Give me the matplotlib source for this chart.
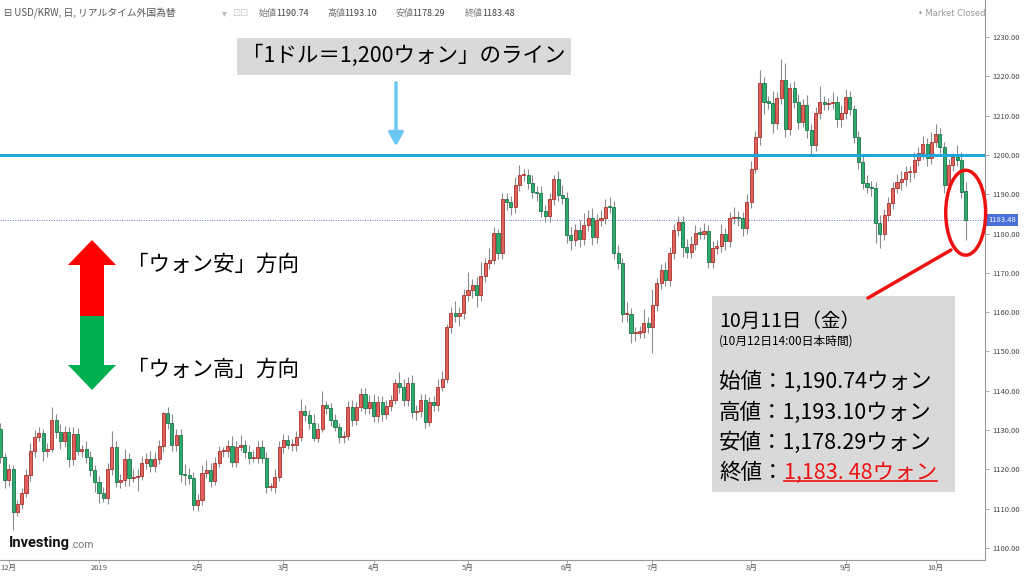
import matplotlib
matplotlib.use("Agg")
import matplotlib.pyplot as plt
from matplotlib.patches import Ellipse, Rectangle, Polygon
import numpy as np
import pandas as pd

plt.rcParams['font.family'] = ['Noto Sans CJK JP', 'DejaVu Sans']

# daily USD/KRW closes, 2018-11-29 .. 2019-10-11
closes = [
    1123.2, 1117.3, 1120.2, 1109.2, 1111.3, 1114.0, 1118.5, 1124.7, 1128.3, 1129.3,
    1124.6, 1125.3, 1132.5, 1129.6, 1127.3, 1129.6, 1122.6, 1129.1, 1124.7, 1125.1,
    1123.2, 1119.8, 1116.8, 1114.0, 1112.8, 1120.0, 1125.7, 1116.8, 1117.4, 1122.6,
    1117.7, 1118.0, 1118.3, 1121.5, 1122.6, 1120.8, 1122.6, 1125.9, 1134.4, 1131.7,
    1126.2, 1128.7, 1118.8, 1118.5, 1117.8, 1110.9, 1112.2, 1119.2, 1119.8, 1117.1,
    1121.7, 1124.7, 1124.7, 1125.9, 1122.0, 1125.7, 1126.2, 1124.5, 1122.8, 1123.0,
    1125.6, 1123.0, 1115.6, 1115.6, 1118.1, 1125.6, 1127.6, 1126.2, 1126.2, 1128.3,
    1134.8, 1133.8, 1131.7, 1128.1, 1130.4, 1136.4, 1135.5, 1132.5, 1130.8, 1128.3,
    1128.6, 1135.9, 1132.5, 1135.9, 1139.1, 1135.7, 1137.2, 1133.5, 1137.2, 1134.2,
    1136.1, 1137.6, 1141.9, 1141.0, 1137.6, 1141.9, 1134.6, 1134.8, 1137.6, 1132.1,
    1137.2, 1136.3, 1141.0, 1143.1, 1156.1, 1159.9, 1159.0, 1159.7, 1164.4, 1165.6,
    1166.9, 1164.4, 1169.2, 1172.4, 1173.3, 1180.2, 1175.1, 1188.7, 1188.1, 1186.8,
    1192.3, 1194.9, 1194.9, 1192.8, 1190.6, 1190.2, 1185.7, 1184.5, 1188.7, 1194.0,
    1189.8, 1189.0, 1179.6, 1178.4, 1180.9, 1178.5, 1182.2, 1183.9, 1179.2, 1183.4,
    1184.0, 1186.8, 1186.7, 1175.0, 1172.4, 1159.5, 1159.5, 1154.6, 1154.8, 1155.0,
    1157.2, 1156.3, 1161.8, 1167.3, 1170.7, 1168.2, 1175.0, 1180.9, 1183.0, 1176.5,
    1175.4, 1177.3, 1180.2, 1180.0, 1180.7, 1172.8, 1176.2, 1176.8, 1179.9, 1178.2,
    1183.9, 1184.3, 1184.0, 1181.3, 1188.1, 1196.4, 1204.5, 1218.2, 1213.5, 1213.3,
    1208.0, 1214.4, 1219.0, 1206.6, 1216.9, 1213.5, 1208.5, 1212.7, 1206.3, 1202.5,
    1210.6, 1213.5, 1213.0, 1213.1, 1213.5, 1209.1, 1210.6, 1214.8, 1211.6, 1204.6,
    1198.3, 1192.8, 1191.9, 1191.5, 1182.6, 1179.9, 1184.7, 1187.7, 1191.7, 1193.2,
    1194.0, 1195.7, 1195.7, 1198.7, 1200.4, 1202.9, 1199.1, 1203.4, 1205.3, 1201.9,
    1192.3, 1197.4, 1199.5, 1198.7, 1190.6, 1183.48,
]
# wick lengths above / below the body
upper_wick = [
    1.5, 1.0, 1.2, 1.0, 0.8, 1.2, 1.5, 2.0, 1.8, 1.5,
    1.0, 1.5, 3.4, 1.5, 2.0, 1.5, 1.2, 1.8, 1.5, 1.2,
    2.0, 1.5, 1.2, 1.5, 1.5, 1.5, 4.0, 1.5, 1.5, 2.5,
    1.5, 2.0, 1.8, 2.0, 1.5, 2.0, 1.8, 1.5, 0.3, 1.5,
    2.5, 1.5, 1.5, 2.5, 1.8, 1.5, 1.5, 2.0, 2.5, 1.8,
    1.5, 1.2, 1.0, 1.5, 2.5, 1.5, 2.5, 1.2, 1.8, 2.0,
    1.5, 2.0, 1.5, 1.0, 2.0, 1.5, 1.5, 1.2, 1.5, 1.5,
    3.0, 1.5, 1.2, 2.5, 1.5, 3.5, 1.0, 1.5, 1.5, 1.0,
    1.2, 1.5, 1.8, 1.2, 1.5, 1.5, 1.8, 2.0, 1.5, 1.5,
    1.5, 1.2, 1.2, 3.0, 2.0, 1.5, 2.0, 1.5, 1.5, 1.5,
    1.2, 1.5, 2.0, 2.0, 1.0, 1.5, 3.0, 1.5, 1.5, 4.5,
    1.5, 2.0, 3.5, 1.5, 3.0, 1.5, 1.0, 1.5, 1.5, 1.5,
    2.0, 2.5, 1.5, 1.5, 2.0, 1.5, 2.0, 1.5, 1.5, 1.0,
    2.0, 2.5, 1.5, 2.0, 1.5, 2.5, 3.0, 2.0, 2.5, 1.5,
    2.0, 2.0, 2.5, 1.5, 2.0, 1.5, 3.0, 1.5, 1.5, 1.5,
    3.5, 1.5, 4.0, 1.5, 1.5, 2.0, 1.5, 1.5, 1.5, 1.5,
    2.0, 2.0, 2.0, 1.5, 2.0, 1.5, 2.0, 1.5, 2.5, 1.5,
    1.5, 2.5, 1.5, 1.5, 2.0, 2.0, 1.5, 3.5, 1.5, 1.5,
    3.0, 1.5, 5.5, 4.5, 1.5, 2.0, 2.0, 1.5, 2.5, 1.5,
    1.5, 4.0, 1.5, 1.5, 2.5, 1.5, 2.0, 2.0, 1.5, 1.0,
    1.5, 1.5, 2.0, 1.5, 1.5, 2.0, 1.5, 1.5, 1.5, 2.0,
    2.0, 1.5, 1.5, 2.0, 1.5, 2.0, 1.5, 2.5, 2.5, 1.5,
    1.5, 1.5, 1.0, 3.0, 2.0, 2.36,
]
lower_wick = [
    1.5, 2.0, 1.5, 4.5, 1.0, 1.5, 1.0, 1.5, 1.5, 1.0,
    2.5, 1.5, 1.0, 1.5, 2.0, 1.5, 2.0, 1.5, 1.0, 1.5,
    1.5, 1.5, 2.5, 2.5, 1.2, 1.5, 1.5, 1.2, 1.5, 1.5,
    2.0, 1.0, 3.5, 1.0, 1.5, 1.5, 1.5, 1.2, 1.5, 1.5,
    1.5, 1.5, 2.0, 2.5, 1.5, 1.2, 1.5, 1.2, 1.5, 1.5,
    1.0, 1.0, 1.5, 1.5, 1.5, 1.5, 1.0, 1.5, 1.5, 1.0,
    1.5, 1.5, 1.5, 1.2, 1.5, 1.0, 1.5, 1.0, 1.5, 1.5,
    1.0, 1.5, 1.5, 1.0, 1.2, 1.0, 1.5, 1.5, 1.0, 1.5,
    1.5, 1.0, 1.5, 1.2, 1.0, 1.5, 1.5, 1.5, 1.5, 2.0,
    1.5, 1.2, 1.0, 1.5, 1.5, 1.5, 1.5, 2.0, 1.5, 1.5,
    1.0, 1.5, 1.5, 1.0, 1.0, 1.5, 1.5, 2.5, 1.5, 1.5,
    2.0, 3.0, 1.5, 1.5, 1.5, 1.0, 1.5, 1.5, 2.0, 2.0,
    1.5, 1.5, 1.5, 1.5, 1.5, 2.0, 1.5, 1.5, 1.5, 1.5,
    1.5, 1.5, 2.0, 2.5, 1.5, 2.0, 1.5, 1.5, 2.0, 1.5,
    1.5, 1.5, 1.5, 1.5, 1.5, 2.0, 2.0, 2.5, 2.0, 1.5,
    1.5, 1.5, 6.8, 1.5, 1.5, 1.5, 1.5, 1.5, 1.5, 2.5,
    1.5, 1.5, 1.5, 1.5, 1.5, 1.5, 1.5, 1.5, 1.5, 2.5,
    1.5, 1.5, 2.0, 2.0, 1.5, 1.5, 1.0, 2.0, 3.0, 1.5,
    2.5, 1.5, 1.5, 2.0, 1.5, 1.5, 2.0, 1.5, 2.0, 2.5,
    1.5, 1.5, 1.5, 1.5, 1.5, 2.0, 2.0, 1.5, 1.5, 1.5,
    2.0, 1.5, 1.5, 2.0, 5.0, 3.5, 1.5, 1.5, 1.5, 1.5,
    2.0, 2.0, 2.5, 1.5, 1.5, 1.5, 2.0, 1.5, 1.5, 1.5,
    2.0, 1.5, 1.5, 1.5, 1.5, 5.19,
]
first_open = 1130.4
last_open = 1190.74
holidays = ["2019-10-09"]

price_ticks = list(range(1100, 1231, 10))
line_level = 1200

last_ohlc = [("始値", "1190.74"), ("高値", "1193.10"), ("安値", "1178.29"), ("終値", "1183.48")]
box_lines = ["始値：1,190.74ウォン", "高値：1,193.10ウォン", "安値：1,178.29ウォン"]
close_label = "1,183. 48ウォン"

# ---- dates and positions ----
dates = pd.bdate_range("2018-11-29", "2019-10-11")
dates = dates[~dates.isin(pd.to_datetime(holidays))][-len(closes):]
x = np.arange(len(closes))
month_pos = [i for i in range(1, len(dates)) if dates[i].month != dates[i - 1].month]
month_lab = ["2019" if dates[i].month == 1 else f"{dates[i].month}月" for i in month_pos]

c = np.array(closes)
o = np.r_[first_open, c[:-1]]
o[-1] = last_open
top = np.maximum(o, c)
bot = np.minimum(o, c)
hi = top + np.array(upper_wick)
lo = bot - np.array(lower_wick)
up = c >= o
body = np.maximum(top - bot, 0.3)

fig = plt.figure(figsize=(10.24, 5.76), dpi=100)
ax = fig.add_axes([0, 1 - 560 / 576, 985 / 1024, 560 / 576])

ax.vlines(x, lo, hi, color="#8c8c8c", lw=0.8, zorder=2)
ax.bar(x[up], body[up], bottom=bot[up], width=0.72, color="#e0625c",
       edgecolor="#a6302b", lw=0.6, zorder=3)
ax.bar(x[~up], body[~up], bottom=bot[~up], width=0.72, color="#2eaa6c",
       edgecolor="#1c744a", lw=0.6, zorder=3)

ax.axhline(line_level, color="#1fa7dc", lw=2.2, zorder=4)
ax.axhline(c[-1], color="#5d74c4", lw=0.7, ls=(0, (1, 1.5)), zorder=1)

ax.set_xlim(-0.07, 229.5)
ax.set_ylim(1096.95, 1239.41)
ax.yaxis.tick_right()
ax.set_yticks(price_ticks)
ax.set_yticklabels([f"{v:.2f}" for v in price_ticks])
ax.tick_params(axis="y", length=3, width=0.6, pad=2, labelsize=5.5,
               colors="#444444", color="#999999")
ax.set_xticks(month_pos)
ax.set_xticklabels(month_lab)
ax.tick_params(axis="x", length=2, width=0.6, pad=1, labelsize=5.5,
               colors="#555555", color="#999999")
for s in ["left", "top"]:
    ax.spines[s].set_visible(False)
for s in ["right", "bottom"]:
    ax.spines[s].set_color("#999999")
    ax.spines[s].set_linewidth(0.8)

# price tag on the right axis
ax.text(1.003, c[-1], f"{c[-1]:.2f}", transform=ax.get_yaxis_transform(),
        ha="left", va="center", fontsize=5.5, color="white", clip_on=False,
        bbox=dict(boxstyle="square,pad=0.3", fc="#4a6fd8", ec="none"), zorder=6)

# red ellipse round the last candle
ax.add_patch(Ellipse((x[-1], 1185.3), 9.3, 21.6, fc="none", ec="#ee1111",
                     lw=2.5, clip_on=False, zorder=7))

# ---- overlay in pixel coordinates for the annotations ----
ov = fig.add_axes([0, 0, 1, 1], zorder=10)
ov.set_xlim(0, 1024)
ov.set_ylim(576, 0)
ov.axis("off")
ov.patch.set_alpha(0)

# header line
ov.text(4, 13, "⊟ USD/KRW, 日, リアルタイム外国為替", fontsize=7, color="#555555", va="center")
ov.text(222, 13, "▾", fontsize=7, color="#bbbbbb", va="center")
ov.text(232, 13, "⊡⊡", fontsize=7, color="#cccccc", va="center")
hx = 259
for lab, val in last_ohlc:
    ov.text(hx, 13, lab, fontsize=6.5, color="#777777", va="center")
    ov.text(hx + 17, 13, val, fontsize=6.5, color="#444444", va="center")
    hx += 68 if lab != "安値" else 70
ov.text(985, 13, "• Market Closed", fontsize=6, color="#999999", va="center", ha="right",
        family="DejaVu Sans")

# 1,200 line label and arrow
ov.add_patch(Rectangle((237, 38), 334, 37, fc="#d9d9d9", ec="none"))
ov.text(404, 56, "「1ドル＝1,200ウォン」のライン", fontsize=15.5, ha="center", va="center")
ov.annotate("", xy=(396, 149), xytext=(396, 80),
            arrowprops=dict(arrowstyle="-|>,head_length=0.8,head_width=0.45",
                            color="#6cc8f2", lw=2.5))

# direction arrows
ov.add_patch(Polygon([(80, 316), (80, 265), (68, 265), (92, 240), (116, 265),
                      (104, 265), (104, 316)], closed=True, fc="#ff0000", ec="none"))
ov.add_patch(Polygon([(80, 316), (80, 365), (68, 365), (92, 390), (116, 365),
                      (104, 365), (104, 316)], closed=True, fc="#00b050", ec="none"))
ov.text(127, 265, "「ウォン安」方向", fontsize=15.5, va="center")
ov.text(127, 370, "「ウォン高」方向", fontsize=15.5, va="center")

# info box for the last candle
ov.plot([951, 868], [250, 298], color="#ee1111", lw=2.5, solid_capstyle="round")
ov.add_patch(Rectangle((712, 296), 243, 196, fc="#d9d9d9", ec="none"))
ov.text(719, 321, "10月11日（金）", fontsize=14, va="center")
ov.text(719, 341, "(10月12日14:00日本時間)", fontsize=8.5, va="center")
for k, line in enumerate(box_lines):
    ov.text(719, 382 + 30.5 * k, line, fontsize=15.5, va="center")
t_close = ov.text(719, 473, "終値：", fontsize=15.5, va="center")

fig.canvas.draw()
r = fig.canvas.get_renderer()
inv = ov.transData.inverted()
bb = t_close.get_window_extent(r)
x0 = inv.transform((bb.x1, bb.y0))[0]
t_red = ov.text(x0, 473, close_label, fontsize=15.5, va="center", color="#ee1111")
fig.canvas.draw()
bb2 = t_red.get_window_extent(r)
(ux0, uy), (ux1, _) = inv.transform([(bb2.x0, bb2.y0 + 3), (bb2.x1, bb2.y0)])
ov.plot([ux0, ux1], [uy, uy], color="#ee1111", lw=1.2)

# logo
t_logo = ov.text(9, 543, "Investing", fontsize=10.5, fontweight="bold",
                 family="Roboto", va="center", color="#111111")
fig.canvas.draw()
bb3 = t_logo.get_window_extent(r)
lx = inv.transform((bb3.x1, bb3.y0))[0]
ov.text(lx, 545, ".com", fontsize=7.5, family="Roboto", va="center", color="#777777")

fig.savefig("out.png", dpi=100)
